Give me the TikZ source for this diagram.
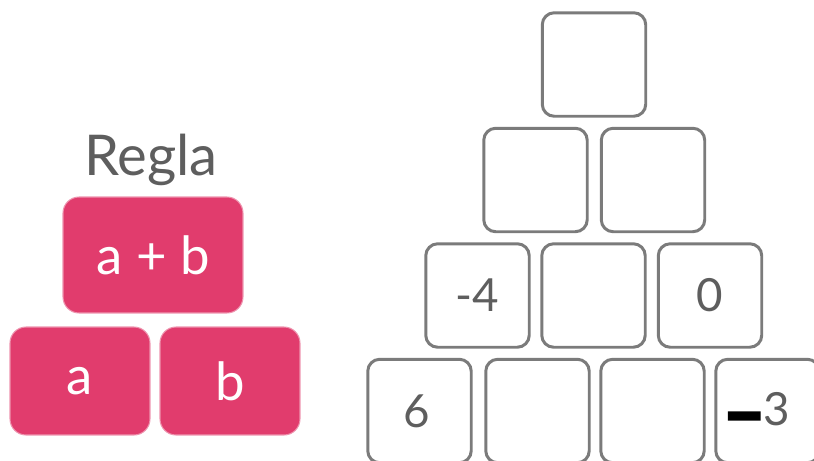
\documentclass[tikz,border=0pt]{standalone}
\usepackage{fontspec}
\setmainfont{Lato}
\newfontfamily\heavydash[FakeBold=10]{Lato}
\usetikzlibrary{positioning}
\definecolor{rulepink}{HTML}{E13C6D}
\definecolor{cellgray}{HTML}{7B7B7B}
\definecolor{textgray}{HTML}{5E5E5E}

\begin{document}
\begin{tikzpicture}[x=0.02cm, y=-0.02cm,
        rulebox/.style={rectangle, rounded corners=0.32cm, fill=rulepink, draw=rulepink!55, line width=0.6pt,
            text=white, font=\fontsize{30}{34}\selectfont},
        cell/.style={rectangle, rounded corners=0.24cm, draw=cellgray, line width=1.7pt,
            minimum width=2.07cm, minimum height=2.07cm, text=textgray, font=\fontsize{26}{30}\selectfont}
    ]
        \useasboundingbox (0,0) rectangle (814,460);
        \clip (0,0) rectangle (814,460);

        % Rule
        \node[anchor=base, text=textgray, font=\fontsize{32}{36}\selectfont] (title) at (151,175) {Regla};
        \node[rulebox, minimum width=3.6cm, minimum height=2.32cm] (sum) at (153,255) {a + b};
        \node[rulebox, minimum width=2.8cm, minimum height=2.16cm] (ra) at (80,381) {a};
        \node[rulebox, minimum width=2.8cm, minimum height=2.16cm] (rb) at (230,381) {b};

        % Pyramid
        \node[cell] (p1) at (594,64.5) {};

        \node[cell] (p21) at (535.5,180) {};
        \node[cell] (p22) at (653,180) {};

        \node[cell] (p31) at (477.5,295.5) {-4};
        \node[cell] (p32) at (593.5,295.5) {};
        \node[cell] (p33) at (710,295.5) {0};

        \node[cell] (p41) at (419.5,411) {6\kern3pt};
        \node[cell] (p42) at (537.5,411) {};
        \node[cell] (p43) at (652.5,411) {};
        \node[cell] (p44) at (767.5,411)
            {\textcolor{black}{\raisebox{-2.5pt}{\scalebox{2}[1]{\heavydash\bfseries -}}}\kern1.5pt 3\kern10pt};
    \end{tikzpicture}
\end{document}
